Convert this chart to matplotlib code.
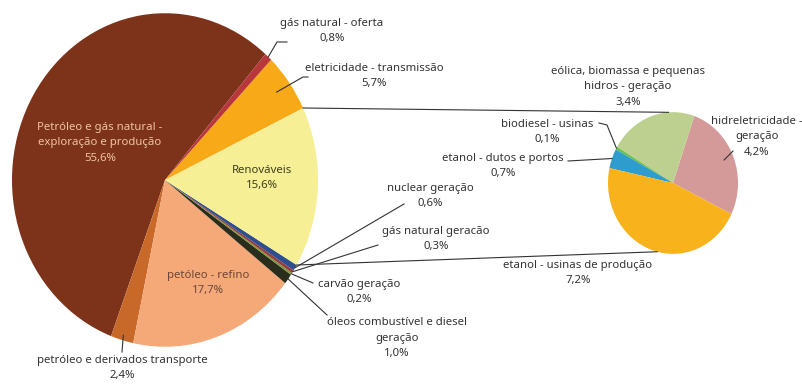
import numpy as np
import matplotlib
matplotlib.use("Agg")
import matplotlib.pyplot as plt

plt.rcParams['font.family'] = ['Noto Sans', 'DejaVu Sans']

# main pie, counter-clockwise from the top-right edge of the big slice
main_labels = ["Petróleo e gás natural -\nexploração e produção", "petróleo e derivados transporte",
               "petóleo - refino", "óleos combustível e diesel\ngeração", "carvão geração",
               "gás natural geracão", "nuclear geração", "Renováveis",
               "eletricidade - transmissão", "gás natural - oferta"]
main_values = [55.6, 2.4, 17.7, 1.0, 0.2, 0.3, 0.6, 15.6, 5.7, 0.8]
main_colors = ["#7d3319", "#c8692a", "#f5a878", "#2b2d1c", "#7a9a3a",
               "#9a3a3a", "#2e4f8f", "#f7ef96", "#f7a918", "#b7373a"]

# breakdown of "Renováveis"
sub_labels = ["hidreletricidade -\ngeração", "eólica, biomassa e pequenas\nhidros - geração",
              "biodiesel - usinas", "etanol - dutos e portos", "etanol - usinas de produção"]
sub_values = [4.2, 3.4, 0.1, 0.7, 7.2]
sub_colors = ["#d49a9a", "#bdd08f", "#6cc04a", "#2e9ccc", "#f8b21c"]

K = 1.09  # vertical stretch of the pies


def P(x, y):
    return (x, y / K)


def fmt(v):
    return f"{v:.1f}%".replace(".", ",")


fig = plt.figure(figsize=(8.02, 3.90), dpi=100)
ax = fig.add_axes([0, 0, 1, 1])

main_c = P(165, 180)
main_r = 153
sub_c = P(673, 183)
sub_r = 65

# y axis is inverted below, so clockwise in data reads counter-clockwise on screen
wedges, _ = ax.pie(main_values, colors=main_colors, startangle=-49, counterclock=False,
                   center=main_c, radius=main_r, frame=True,
                   wedgeprops=dict(linewidth=0))
sub_wedges, _ = ax.pie(sub_values, colors=sub_colors, startangle=26, counterclock=False,
                       center=sub_c, radius=sub_r, frame=True,
                       wedgeprops=dict(linewidth=0))

ax.set_aspect('auto')
ax.set_xlim(0, 802)
ax.set_ylim(390 / K, 0)
ax.axis('off')


def edge(center, r, ang, f=1.0):
    a = np.deg2rad(ang)
    return (center[0] + f * r * np.cos(a), center[1] + f * r * np.sin(a))


def mid(w):
    return (w.theta1 + w.theta2) / 2


txt = dict(ha='center', va='center', fontsize=8.2, color='#333333', linespacing=1.62)
line = dict(color='#333333', lw=0.8)

# labels inside the main pie
ax.text(*P(100, 143), main_labels[0] + "\n" + fmt(main_values[0]), **{**txt, 'color': '#f0c2a2'})
ax.text(*P(262, 178), main_labels[7] + "\n" + fmt(main_values[7]), **{**txt, 'color': '#3e3e1c'})
ax.text(*P(208, 283), main_labels[2] + "\n" + fmt(main_values[2]), **{**txt, 'color': '#6e4636'})

# outside labels of the main pie with leader lines: (index, text pos, line points)
outside = [
    (9, (332, 31), [(277, 42), (287, 42)], 1.0),
    (8, (374, 76), [(303, 77), (308, 77)], 0.9),
    (6, (430, 196), [(404, 204)], 1.0),
    (5, (436, 239), [(378, 245)], 1.0),
    (4, (359, 292), [(313, 283)], 1.0),
    (3, (397, 338), [(327, 315)], 1.0),
    (1, (122, 368), [(122, 352)], 0.97),
]
for k, pos, pts, f in outside:
    w = wedges[k]
    start = edge(w.center, w.r, mid(w), f)
    xs = [start[0]] + [p[0] for p in pts]
    ys = [start[1]] + [P(*p)[1] for p in pts]
    ax.plot(xs, ys, **line)
    ax.text(*P(*pos), main_labels[k] + "\n" + fmt(main_values[k]), **txt)

# labels of the breakdown pie
sub_out = [
    (0, (757, 137), [(733, 151)], 0.85),
    (1, (628, 87), None, None),
    (2, (547, 132), [(607, 125), (599, 123)], 1.0),
    (3, (503, 166), [(568, 161)], 1.0),
    (4, (578, 273), None, None),
]
for k, pos, pts, f in sub_out:
    ax.text(*P(*pos), sub_labels[k] + "\n" + fmt(sub_values[k]), **txt)
    if pts:
        w = sub_wedges[k]
        start = edge(w.center, w.r, mid(w), f)
        xs = [start[0]] + [p[0] for p in pts]
        ys = [start[1]] + [P(*p)[1] for p in pts]
        ax.plot(xs, ys, **line)

# lines linking the "Renováveis" slice to its breakdown
ren = wedges[7]
a1 = edge(ren.center, ren.r, ren.theta1)
a2 = edge(ren.center, ren.r, ren.theta2)
b1 = edge(sub_c, sub_r, -94)
b2 = edge(sub_c, sub_r, 104)
ax.plot([a1[0], b1[0]], [a1[1], b1[1]], **line)
ax.plot([a2[0], b2[0]], [a2[1], b2[1]], **line)

fig.savefig("out.png", dpi=100, facecolor='white')
